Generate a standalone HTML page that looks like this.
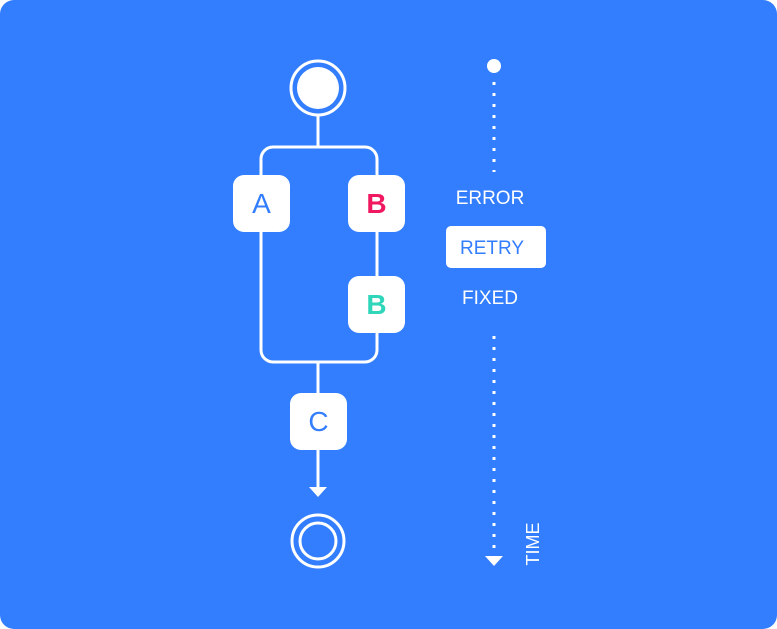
<!DOCTYPE html>
<html><head><style>
html,body{margin:0;padding:0;background:#fff;}
</style></head><body>
<svg width="777" height="629" viewBox="0 0 777 629" xmlns="http://www.w3.org/2000/svg" style="display:block">
<rect x="0" y="0" width="777" height="629" rx="14" fill="#337eff"/>
<g fill="none" stroke="#fff" stroke-width="3">
<circle cx="318" cy="88" r="27"/>
<line x1="318" y1="116" x2="318" y2="146"/>
<rect x="261" y="147" width="116" height="215" rx="12"/>
<line x1="318" y1="362" x2="318" y2="395"/>
<line x1="318" y1="448" x2="318" y2="489"/>
<circle cx="318" cy="541" r="26"/>
<circle cx="318" cy="541" r="18"/>
<line x1="494" y1="82" x2="494" y2="172" stroke-dasharray="3 8"/>
<line x1="494" y1="336" x2="494" y2="556" stroke-dasharray="3 8"/>
</g>
<circle cx="318" cy="88" r="21" fill="#fff"/>
<polygon points="309,487 327,487 318,497" fill="#fff"/>
<circle cx="494" cy="66" r="7" fill="#fff"/>
<polygon points="485,556 503,556 494,566" fill="#fff"/>
<g fill="#fff">
<rect x="233" y="175" width="57" height="57" rx="11"/>
<rect x="348" y="175" width="57" height="57" rx="11"/>
<rect x="348" y="276" width="57" height="57" rx="11"/>
<rect x="290" y="393" width="57" height="57" rx="11"/>
<rect x="446" y="226" width="100" height="42" rx="5"/>
</g>
<g font-family="Liberation Sans, sans-serif" text-anchor="middle">
<text x="261.5" y="213" font-size="28" fill="#337eff">A</text>
<text x="376.5" y="213" font-size="28" font-weight="bold" fill="#f0195f">B</text>
<text x="376.5" y="314" font-size="28" font-weight="bold" fill="#2fd6b9">B</text>
<text x="318.5" y="431" font-size="28" fill="#337eff">C</text>
<text x="490" y="204" font-size="19" fill="#fff">ERROR</text>
<text x="492" y="254" font-size="19" fill="#337eff">RETRY</text>
<text x="490" y="304" font-size="19" fill="#fff">FIXED</text>
<text transform="translate(539,544) rotate(-90)" font-size="18" fill="#fff">TIME</text>
</g>
</svg>
</body></html>
